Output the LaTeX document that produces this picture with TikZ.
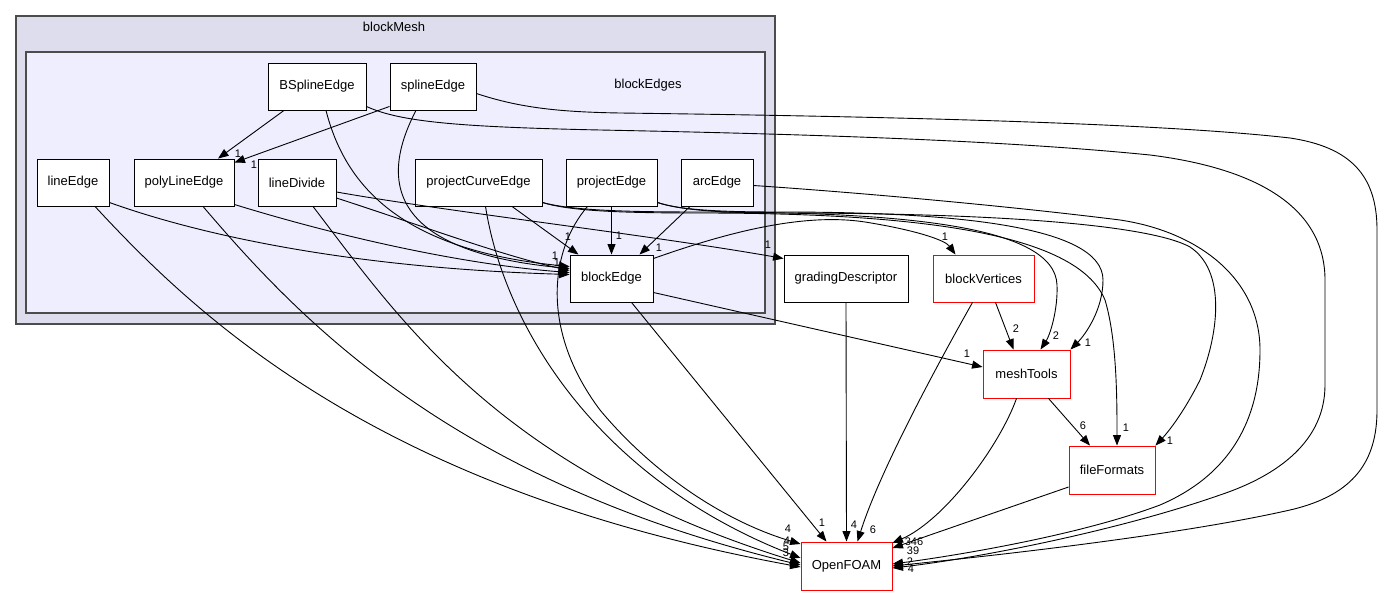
\documentclass[tikz,border=0pt]{standalone}
\usepackage{fontspec}
\setmainfont{Liberation Sans}
\usetikzlibrary{arrows.meta}
\begin{document}
\begin{tikzpicture}[x=1pt,y=-1pt,
  box/.style={draw=black, fill=white, line width=0.9pt, minimum height=47, inner sep=0pt, font=\fontsize{13}{15}\selectfont},
  redbox/.style={box, draw=red},
  clusterA/.style={draw=black!70, fill=clA, line width=1.3pt, inner sep=0pt},
  clusterB/.style={draw=black!70, fill=clB, line width=1.1pt, inner sep=0pt},
  ctitle/.style={font=\fontsize{13}{15}\selectfont, inner sep=0pt},
  lbl/.style={font=\fontsize{11}{12}\selectfont, inner sep=0pt},
  dep/.style={draw=black, line width=0.9pt, -{Triangle[length=10.5pt,width=8pt]}},
]
\definecolor{clA}{HTML}{DDDDEE}
\definecolor{clB}{HTML}{EEEEFF}
\useasboundingbox (0,0) rectangle (1384,596);

% clusters
\node[clusterA, minimum width=759, minimum height=308] (blockMesh) at (395.5,170) {};
\node[ctitle] (blockMeshT) at (394,27) {blockMesh};
\node[clusterB, minimum width=739, minimum height=261] (blockEdges) at (395.5,182.5) {};
\node[ctitle] (blockEdgesT) at (648,85) {blockEdges};

% nodes
\node[box, minimum width=98] (bspline) at (317,86.5) {BSplineEdge};
\node[box, minimum width=86] (spline) at (433,86.5) {splineEdge};
\node[box, minimum width=72] (lineedge) at (73,182.5) {lineEdge};
\node[box, minimum width=100] (polyline) at (184,182.5) {polyLineEdge};
\node[box, minimum width=78] (linedivide) at (297,182.5) {lineDivide};
\node[box, minimum width=127] (pce) at (478.5,182.5) {projectCurveEdge};
\node[box, minimum width=91] (pe) at (611.5,182.5) {projectEdge};
\node[box, minimum width=72] (arc) at (717,182.5) {arcEdge};
\node[box, minimum width=83] (be) at (611.5,278.5) {blockEdge};
\node[box, minimum width=124] (gd) at (846,278.5) {gradingDescriptor};
\node[redbox, minimum width=101] (bv) at (983.5,278.5) {blockVertices};
\node[redbox, minimum width=87, minimum height=48] (mt) at (1026.5,374) {meshTools};
\node[redbox, minimum width=86, minimum height=48] (ff) at (1112,470) {fileFormats};
\node[redbox, minimum width=91, minimum height=48] (of) at (846.5,566) {OpenFOAM};

% edges inside blockEdges
\draw[dep] ([xshift=-33]bspline.south) -- ([xshift=34]polyline.north);
\draw[dep] ([yshift=4]spline.south west) -- ([yshift=-4]polyline.north east);
\draw[dep] ([xshift=9]bspline.south) .. controls (345,185) and (400,250) .. ([yshift=12]be.west);
\draw[dep] ([xshift=-17]spline.south) .. controls (385,170) and (375,250) .. ([yshift=10]be.west);
\draw[dep] ([yshift=-20]lineedge.east) .. controls (200,235) and (350,268) .. ([yshift=4]be.west);
\draw[dep] ([yshift=-22]polyline.east) .. controls (350,240) and (470,265) .. ([yshift=6]be.west);
\draw[dep] ([yshift=-15.5]linedivide.east) .. controls (420,225) and (500,255) .. ([yshift=8]be.west);
\draw[dep] ([yshift=-9.5]linedivide.east) .. controls (450,212) and (650,235) .. ([yshift=20]gd.west);
\draw[dep] ([xshift=33.5]pce.south) -- ([xshift=-33]be.north);
\draw[dep] (pe.south) -- (be.north);
\draw[dep] ([xshift=-27]arc.south) -- ([xshift=28]be.north);

% edges to OpenFOAM from the left
\draw[dep] ([xshift=22]lineedge.south) .. controls (200,320) and (380,490) .. ([yshift=-1]of.west);
\draw[dep] ([xshift=19]polyline.south) .. controls (300,320) and (450,480) .. ([yshift=1]of.west);
\draw[dep] ([xshift=16]linedivide.south) .. controls (400,320) and (500,470) .. ([yshift=3]of.west);
\draw[dep] ([xshift=7]pce.south) .. controls (505,330) and (600,480) .. ([yshift=8]of.west);
\draw[dep] ([xshift=-24]pe.south) .. controls (550,250) and (540,330) .. (600,410) .. controls (650,470) and (720,520) .. ([yshift=22]of.west);

% blockEdge outgoing
\draw[dep] ([yshift=20]be.east) .. controls (720,235) and (800,212) .. (865,222) .. controls (915,230) and (945,240) .. ([xshift=-28]bv.north);
\draw[dep] ([yshift=-14]be.east) -- ([yshift=7]mt.west);
\draw[dep] ([xshift=20]be.south) -- ([xshift=-20]of.north);
\draw[dep] (gd.south) -- (of.north);
\draw[dep] ([xshift=-11]bv.south) .. controls (940,360) and (880,470) .. ([xshift=11]of.north);
\draw[dep] ([xshift=12]bv.south) -- ([xshift=-13]mt.north);
\draw[dep] ([xshift=22]mt.south) -- ([xshift=-22]ff.north);
\draw[dep] ([xshift=-10]mt.south) .. controls (1000,445) and (945,520) .. ([yshift=23]of.east);
\draw[dep] ([yshift=-17]ff.west) -- ([yshift=18]of.east);

% bundle from projectCurveEdge / projectEdge
\draw[dep] ([yshift=-20]pce.east) .. controls (570,210) and (620,212) .. (700,212) .. controls (900,212) and (1055,225) .. (1057,285) .. controls (1058,310) and (1050,335) .. ([xshift=14]mt.north);
\draw[dep] ([yshift=-20]pce.east) .. controls (570,211) and (620,213) .. (700,213) .. controls (950,213) and (1080,240) .. (1105,300) .. controls (1117,340) and (1117,400) .. ([xshift=5]ff.north);
\draw[dep] ([yshift=-20]pe.east) .. controls (680,210) and (720,212) .. (780,212) .. controls (950,212) and (1103,225) .. (1103,280) .. controls (1103,310) and (1085,335) .. (mt.north east);
\draw[dep] ([yshift=-20]pe.east) .. controls (680,210) and (720,213) .. (780,213) .. controls (1000,213) and (1150,225) .. (1190,247) .. controls (1225,270) and (1220,330) .. (1200,380) .. controls (1185,410) and (1170,430) .. (ff.north east);

% long curves around the right
\draw[dep] ([yshift=-7]spline.east) .. controls (520,108) and (560,112) .. (620,113) .. controls (850,116) and (1150,122) .. (1290,138) .. controls (1350,147) and (1377,175) .. (1377,230) -- (1377,410) .. controls (1377,460) and (1355,495) .. (1290,510) .. controls (1180,535) and (1000,555) .. ([yshift=-0]of.east);
\draw[dep] ([yshift=4]bspline.south east) .. controls (400,122) and (460,127) .. (600,130) .. controls (800,134) and (1000,140) .. (1150,155) .. controls (1270,170) and (1325,215) .. (1325,280) -- (1325,385) .. controls (1325,440) and (1280,475) .. (1220,495) .. controls (1120,530) and (980,558) .. ([yshift=-2]of.east);
\draw[dep] ([yshift=-3]arc.east) .. controls (850,192) and (1000,205) .. (1120,220) .. controls (1200,232) and (1260,280) .. (1260,350) .. controls (1260,420) and (1230,475) .. (1160,505) .. controls (1080,535) and (960,555) .. ([yshift=2]of.east);

% labels
\node[lbl] (l1) at (238,154) {1};
\node[lbl] (l2) at (254,165) {1};
\node[lbl] (l3) at (568,237) {1};
\node[lbl] (l4) at (619,236) {1};
\node[lbl] (l5) at (659,248) {1};
\node[lbl] (l6) at (555,256) {1};
\node[lbl] (l7) at (557,263) {1};
\node[lbl] (l8) at (559,269) {1};
\node[lbl] (l9) at (768,245) {1};
\node[lbl] (l10) at (945,237) {1};
\node[lbl] (l11) at (1016,329) {2};
\node[lbl] (l12) at (1056,336) {2};
\node[lbl] (l13) at (1088,343) {1};
\node[lbl] (l14) at (967,354) {1};
\node[lbl] (l15) at (1083,426) {6};
\node[lbl] (l16) at (1126,428) {1};
\node[lbl] (l17) at (1170,441) {1};
\node[lbl] (l18) at (822,523) {1};
\node[lbl] (l19) at (854,525) {4};
\node[lbl] (l20) at (873,530) {6};
\node[lbl] (l21) at (788,529) {4};
\node[lbl] (l22) at (787,541) {4};
\node[lbl] (l23) at (786,547) {5};
\node[lbl] (l24) at (786,553) {3};
\node[lbl] (l25) at (914,542) {346};
\node[lbl] (l26) at (913,551) {39};
\node[lbl] (l27) at (910,562) {2};
\node[lbl] (l28) at (911,569) {4};
\end{tikzpicture}
\end{document}
